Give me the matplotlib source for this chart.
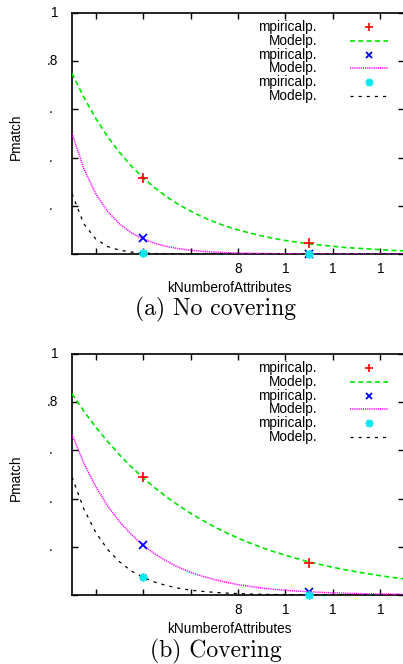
import matplotlib
matplotlib.use("Agg")
import matplotlib.pyplot as plt

k_model = [1, 1.5, 2, 2.5, 3, 3.5, 4, 4.5, 5, 5.5, 6, 6.5, 7, 7.5, 8, 8.5, 9, 9.5,
           10, 10.5, 11, 11.5, 12, 12.5, 13, 13.5, 14, 14.5, 15]

# (a) No covering
a_model_1 = [0.750, 0.650, 0.563, 0.487, 0.422, 0.365, 0.316, 0.274, 0.237, 0.205,
             0.178, 0.154, 0.133, 0.115, 0.100, 0.087, 0.075, 0.065, 0.056, 0.049,
             0.042, 0.037, 0.032, 0.027, 0.024, 0.021, 0.018, 0.015, 0.013]
a_model_2 = [0.500, 0.354, 0.250, 0.177, 0.125, 0.088, 0.0625, 0.044, 0.031, 0.022,
             0.016, 0.011, 0.008, 0.0055, 0.004, 0.003, 0.002, 0.0014, 0.001, 0.0007,
             0.0005, 0.0003, 0.0002, 0.0002, 0.0001, 0.0001, 0.0001, 0.0, 0.0]
a_model_3 = [0.250, 0.125, 0.0625, 0.031, 0.016, 0.008, 0.004, 0.002, 0.001, 0.0005,
             0.0002, 0.0001, 0.0001, 0.0, 0.0, 0.0, 0.0, 0.0, 0.0, 0.0,
             0.0, 0.0, 0.0, 0.0, 0.0, 0.0, 0.0, 0.0, 0.0]

# (b) Covering
b_model_1 = [0.835, 0.763, 0.697, 0.637, 0.582, 0.532, 0.486, 0.444, 0.406, 0.371,
             0.339, 0.310, 0.283, 0.259, 0.236, 0.216, 0.197, 0.180, 0.165, 0.151,
             0.137, 0.126, 0.115, 0.105, 0.096, 0.088, 0.080, 0.073, 0.067]
b_model_2 = [0.665, 0.547, 0.450, 0.370, 0.305, 0.251, 0.206, 0.170, 0.140, 0.115,
             0.094, 0.078, 0.064, 0.053, 0.043, 0.036, 0.029, 0.024, 0.020, 0.016,
             0.0135, 0.011, 0.009, 0.0075, 0.006, 0.005, 0.004, 0.0035, 0.003]
b_model_3 = [0.490, 0.357, 0.260, 0.189, 0.138, 0.100, 0.073, 0.053, 0.039, 0.028,
             0.020, 0.015, 0.011, 0.008, 0.006, 0.004, 0.003, 0.002, 0.0016, 0.0012,
             0.0009, 0.0006, 0.0005, 0.0003, 0.0002, 0.0002, 0.0001, 0.0001, 0.0001]

# empirical points
k_emp = [4, 11]
a_emp_1 = [0.315, 0.046]
a_emp_2 = [0.066, 0.001]
a_emp_3 = [0.004, 0.0]
b_emp_1 = [0.491, 0.134]
b_emp_2 = [0.207, 0.014]
b_emp_3 = [0.073, 0.001]

x_ticks = [2, 4, 6, 8, 10, 12, 14]
x_tick_labels = ["", "", "", "8", "1", "1", "1"]
y_ticks = [0, 0.2, 0.4, 0.6, 0.8, 1.0]
y_tick_labels = ["", ".", ".", ".", ".8", "1"]

labels = ["mpiricalp.", "Modelp.", "mpiricalp.", "Modelp.", "mpiricalp.", "Modelp."]
captions = ["(a) No covering", "(b) Covering"]

plt.rcParams["font.family"] = ["Liberation Sans", "DejaVu Sans"]
FS = 9.8

W, H = 403, 664
fig = plt.figure(figsize=(W / 100, H / 100), dpi=100)

GREEN = "#00e600"
MAG = "#ff00ff"
CYAN = "#00e8f0"


def px_axes(left, top, right, bottom):
    return fig.add_axes([left / W, 1 - bottom / H, (right - left) / W, (bottom - top) / H])


def draw_panel(ax, model, emp):
    m1, m2, m3 = model
    e1, e2, e3 = emp
    ax.plot(k_emp, e1, ls="none", marker="+", ms=7, mew=1.2, color="red", clip_on=False, zorder=5)
    ax.plot(k_model, m1, color=GREEN, lw=1.2, dashes=(3, 2), zorder=3)
    ax.plot(k_emp, e2, ls="none", marker="x", ms=5.5, mew=1.3, color="blue", clip_on=False, zorder=5)
    ax.plot(k_model, m2, color=MAG, lw=1.1, dashes=(0.8, 0.6), zorder=3)
    ax.plot(k_emp, e3, ls="none", marker=(8, 2, 0), ms=6, mew=1.2, color=CYAN, clip_on=False, zorder=5)
    ax.plot(k_model, m3, color="black", lw=0.9, dashes=(2.5, 4), zorder=3)

    ax.set_xlim(1, 15)
    ax.set_ylim(0, 1)
    ax.set_xticks(x_ticks)
    ax.set_xticklabels(x_tick_labels, fontsize=FS)
    ax.set_yticks(y_ticks)
    ax.set_yticklabels([])
    ax.tick_params(direction="in", length=4, width=1, top=True, right=True, pad=6)
    for s in ax.spines.values():
        s.set_linewidth(1.2)

    # y tick labels: gnuplot right-aligned, so the lone dots sit left of the edge
    ytr = ax.get_yaxis_transform()
    for yv, lab in zip(y_ticks, y_tick_labels):
        if lab == ".":
            ax.text(-0.065, yv, lab, transform=ytr, ha="center", va="center", fontsize=FS)
        elif lab:
            ax.text(-0.041, yv, lab, transform=ytr, ha="right", va="center", fontsize=FS)

    # legend, gnuplot style (text right aligned, sample on the right)
    tr = ax.transAxes
    styles = [
        dict(ls="none", marker="+", ms=6, mew=1.2, color="red"),
        dict(color=GREEN, lw=1.2, dashes=(3, 2)),
        dict(ls="none", marker="x", ms=5, mew=1.3, color="blue"),
        dict(color=MAG, lw=1.1, dashes=(0.8, 0.6)),
        dict(ls="none", marker=(8, 2, 0), ms=5.5, mew=1.2, color=CYAN),
        dict(color="black", lw=0.9, dashes=(2.5, 4)),
    ]
    for i, (lab, st) in enumerate(zip(labels, styles)):
        y = 0.942 - i * 0.0572
        ax.text(0.738, y, lab, transform=tr, ha="right", va="center", fontsize=FS)
        if st.get("ls") == "none":
            ax.plot([0.895], [y], transform=tr, clip_on=False, **st)
        else:
            ax.plot([0.837, 0.952], [y, y], transform=tr, clip_on=False, **st)


ax_a = px_axes(72, 13, 404, 254)
draw_panel(ax_a, (a_model_1, a_model_2, a_model_3), (a_emp_1, a_emp_2, a_emp_3))
ax_b = px_axes(72, 354, 404, 595)
draw_panel(ax_b, (b_model_1, b_model_2, b_model_3), (b_emp_1, b_emp_2, b_emp_3))

for yl, yx, yc, cap_y in [(137, 288, captions[0], 309), (478, 629, captions[1], 651)]:
    fig.text(16 / W, 1 - yl / H, "Pmatch", rotation=90, ha="center", va="center", fontsize=FS)
    fig.text(229 / W, 1 - yx / H, "kNumberofAttributes", ha="center", va="center", fontsize=FS)
    fig.text(216 / W, 1 - cap_y / H, yc, ha="center", va="center", fontsize=17, family="cmr10")

fig.savefig("out.png", dpi=100)
